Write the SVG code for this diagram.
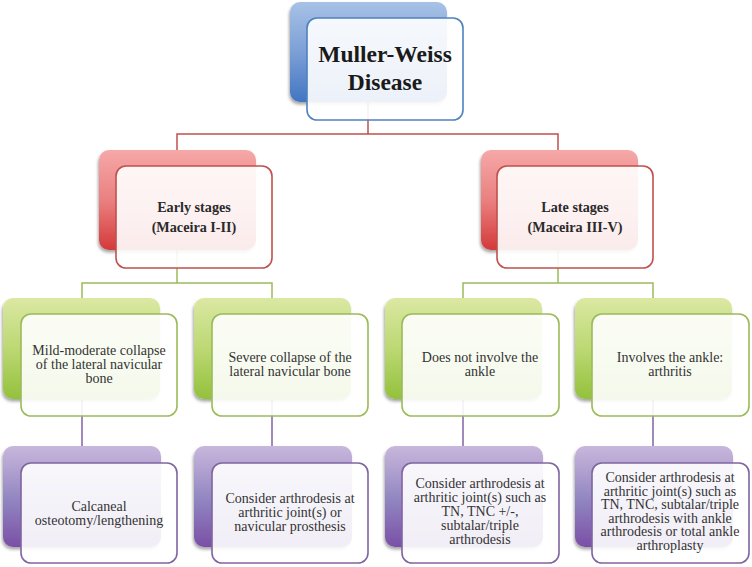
<svg xmlns="http://www.w3.org/2000/svg" width="752" height="567" viewBox="0 0 752 567">
<defs>
<linearGradient id="gBlue" x1="0" y1="0" x2="0" y2="1"><stop offset="0" stop-color="#a8c2e6"/><stop offset="0.5" stop-color="#7c9fd6"/><stop offset="1" stop-color="#4275c2"/></linearGradient>
<linearGradient id="gRed" x1="0" y1="0" x2="0" y2="1"><stop offset="0" stop-color="#f6a8a8"/><stop offset="0.5" stop-color="#ea8080"/><stop offset="1" stop-color="#d43a3a"/></linearGradient>
<linearGradient id="gGreen" x1="0" y1="0" x2="0" y2="1"><stop offset="0" stop-color="#dbe8a3"/><stop offset="0.5" stop-color="#bcd873"/><stop offset="1" stop-color="#93c13c"/></linearGradient>
<linearGradient id="gPurple" x1="0" y1="0" x2="0" y2="1"><stop offset="0" stop-color="#c8b7dc"/><stop offset="0.55" stop-color="#9084c0"/><stop offset="1" stop-color="#7a4fa6"/></linearGradient>
<filter id="sh" x="-10%" y="-10%" width="120%" height="130%"><feDropShadow dx="-1" dy="2.5" stdDeviation="1.8" flood-color="#000" flood-opacity="0.35"/></filter>
</defs>
<style>
.back{filter:url(#sh)}
.front{fill:#fff;fill-opacity:0.9;stroke-width:1.6}
.bl .back{fill:url(#gBlue)} .bl .front{stroke:#4f81bd}
.rd .back{fill:url(#gRed)} .rd .front{stroke:#c0504d}
.gr .back{fill:url(#gGreen)} .gr .front{stroke:#9bbb59}
.pu .back{fill:url(#gPurple)} .pu .front{stroke:#8064a2}
text{font-family:"Liberation Serif","Times New Roman",serif;fill:#333;text-anchor:middle;font-size:14px}
.t1{font-size:23.5px;font-weight:bold;fill:#1a1a1a}
.t2{font-weight:bold;fill:#2a2a2a;font-size:14.2px}
.conn path{fill:none;stroke-width:1.5}
</style>
<g id="connectors" class="conn">
<path d="M368 102 V134 H177 V150 M368 134 H558 V150" stroke="#c0504d"/>
<path d="M177 250 V283 H82 V298 M177 283 H272 V298 M558 250 V283 H463 V298 M558 283 H653 V298" stroke="#9bbb59"/>
<path d="M82 400 V446 M272 400 V446 M463 400 V446 M653 400 V446" stroke="#8064a2"/>
</g>
<g id="muller-weiss" class="bl">
<rect class="back" x="290" y="2" width="157" height="100" rx="10"/>
<rect class="front" x="307" y="18" width="156" height="102" rx="10"/>
<text class="t1" x="385" y="62">Muller-Weiss</text>
<text class="t1" x="385" y="90">Disease</text>
</g>
<g id="early" class="rd">
<rect class="back" x="99" y="150" width="157" height="100" rx="10"/>
<rect class="front" x="116" y="166" width="156" height="102" rx="10"/>
<text class="t2" x="194" y="212">Early stages</text>
<text class="t2" x="194" y="232">(Maceira I-II)</text>
</g>
<g id="late" class="rd">
<rect class="back" x="481" y="150" width="157" height="100" rx="10"/>
<rect class="front" x="497" y="166" width="156" height="102" rx="10"/>
<text class="t2" x="575" y="212">Late stages</text>
<text class="t2" x="575" y="232">(Maceira III-V)</text>
</g>
<g id="mild" class="gr">
<rect class="back" x="3" y="298" width="157" height="101" rx="10"/>
<rect class="front" x="21" y="314" width="156" height="102" rx="10"/>
<text x="99" y="355">Mild-moderate collapse</text>
<text x="99" y="369">of the lateral navicular</text>
<text x="99" y="383">bone</text>
</g>
<g id="severe" class="gr">
<rect class="back" x="194" y="298" width="157" height="101" rx="10"/>
<rect class="front" x="212" y="314" width="156" height="102" rx="10"/>
<text x="290" y="362">Severe collapse of the</text>
<text x="290" y="376">lateral navicular bone</text>
</g>
<g id="noankle" class="gr">
<rect class="back" x="385" y="298" width="157" height="101" rx="10"/>
<rect class="front" x="402" y="314" width="157" height="102" rx="10"/>
<text x="480" y="362">Does not involve the</text>
<text x="480" y="376">ankle</text>
</g>
<g id="ankle" class="gr">
<rect class="back" x="575" y="298" width="157" height="101" rx="10"/>
<rect class="front" x="592" y="314" width="157" height="102" rx="10"/>
<text x="670" y="362">Involves the ankle:</text>
<text x="670" y="376">arthritis</text>
</g>
<g id="calcaneal" class="pu">
<rect class="back" x="3" y="446" width="158" height="101" rx="10"/>
<rect class="front" x="21" y="463" width="156" height="100" rx="10"/>
<text x="99" y="511">Calcaneal</text>
<text x="99" y="525">osteotomy/lengthening</text>
</g>
<g id="prosthesis" class="pu">
<rect class="back" x="194" y="446" width="158" height="101" rx="10"/>
<rect class="front" x="212" y="463" width="156" height="100" rx="10"/>
<text x="290" y="503">Consider arthrodesis at</text>
<text x="290" y="517">arthritic joint(s) or</text>
<text x="290" y="531">navicular prosthesis</text>
</g>
<g id="triple" class="pu">
<rect class="back" x="385" y="446" width="158" height="101" rx="10"/>
<rect class="front" x="402" y="463" width="157" height="100" rx="10"/>
<text x="480" y="488">Consider arthrodesis at</text>
<text x="480" y="502">arthritic joint(s) such as</text>
<text x="480" y="516">TN, TNC +/-,</text>
<text x="480" y="530">subtalar/triple</text>
<text x="480" y="544">arthrodesis</text>
</g>
<g id="arthroplasty" class="pu">
<rect class="back" x="575" y="446" width="158" height="101" rx="10"/>
<rect class="front" x="592" y="463" width="157" height="100" rx="10"/>
<text x="670" y="482">Consider arthrodesis at</text>
<text x="670" y="495.6">arthritic joint(s) such as</text>
<text x="670" y="509.2">TN, TNC, subtalar/triple</text>
<text x="670" y="522.8">arthrodesis with ankle</text>
<text x="670" y="536.4">arthrodesis or total ankle</text>
<text x="670" y="550">arthroplasty</text>
</g>
</svg>
